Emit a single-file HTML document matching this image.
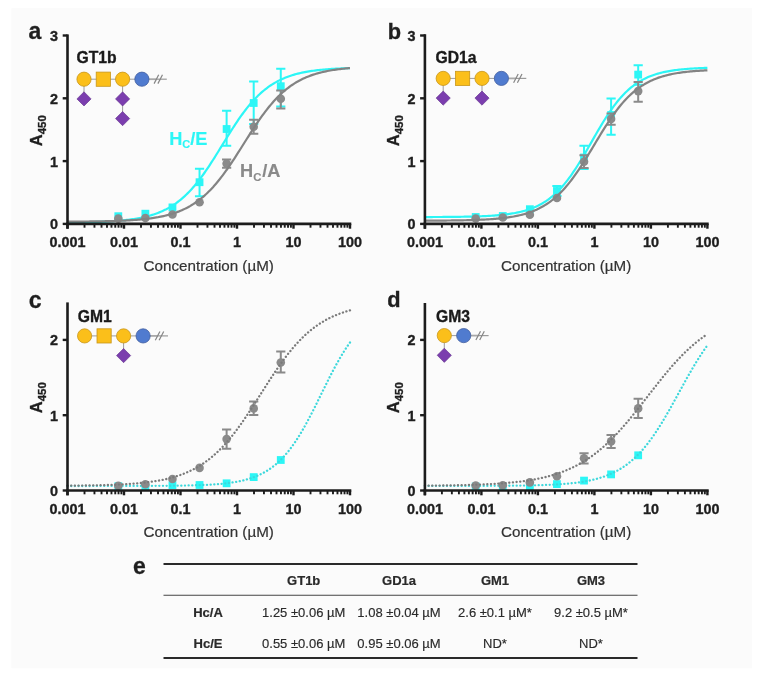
<!DOCTYPE html><html><head><meta charset="utf-8"><style>
html,body{margin:0;padding:0;background:#fff;width:772px;height:679px;overflow:hidden}
svg{display:block;filter:blur(0.3px)}
text{font-family:"Liberation Sans",sans-serif}
.tl{font-size:14.4px;font-weight:bold;fill:#1f1f1f;stroke:#1f1f1f;stroke-width:0.35px}
.pl{font-size:23px;font-weight:bold;fill:#1f1f1f;stroke:#1f1f1f;stroke-width:0.3px}
.xt{font-size:15.2px;fill:#333;stroke:#333;stroke-width:0.2px}
.yt{font-size:16.5px;font-weight:bold;fill:#1f1f1f;stroke:#1f1f1f;stroke-width:0.35px}
.gl{font-size:15.7px;font-weight:bold;fill:#1a1a1a;stroke:#1a1a1a;stroke-width:0.35px}
.hc{font-size:18.2px;font-weight:bold;stroke-width:0.15px}
.th{font-size:13px;font-weight:bold;fill:#2a2a2a;stroke:#2a2a2a;stroke-width:0.2px}
.td{font-size:13px;fill:#2a2a2a;stroke:#2a2a2a;stroke-width:0.15px}
</style></head><body><svg width="772" height="679" viewBox="0 0 772 679">
<rect x="0" y="0" width="772" height="679" fill="#ffffff"/>
<rect x="11.4" y="8.1" width="740.7" height="660.1" fill="#fbfbfb"/>
<rect x="114.40" y="212.30" width="7.8" height="7.8" fill="#2cf6f6"/>
<rect x="141.48" y="209.80" width="7.8" height="7.8" fill="#2cf6f6"/>
<rect x="168.56" y="203.50" width="7.8" height="7.8" fill="#2cf6f6"/>
<path d="M199.54,168.7 V196.2 M194.94,168.7 H204.14 M194.94,196.2 H204.14" stroke="#2cf6f6" stroke-width="2" fill="none"/>
<rect x="195.64" y="178.30" width="7.8" height="7.8" fill="#2cf6f6"/>
<path d="M226.62,110.8 V145.8 M222.02,110.8 H231.22 M222.02,145.8 H231.22" stroke="#2cf6f6" stroke-width="2" fill="none"/>
<rect x="222.72" y="125.10" width="7.8" height="7.8" fill="#2cf6f6"/>
<path d="M253.70,81.4 V124.0 M249.10,81.4 H258.30 M249.10,124.0 H258.30" stroke="#2cf6f6" stroke-width="2" fill="none"/>
<rect x="249.80" y="99.10" width="7.8" height="7.8" fill="#2cf6f6"/>
<path d="M280.78,68.8 V106.6 M276.18,68.8 H285.38 M276.18,106.6 H285.38" stroke="#2cf6f6" stroke-width="2" fill="none"/>
<rect x="276.88" y="82.30" width="7.8" height="7.8" fill="#2cf6f6"/>
<path d="M67.50,222.47 L68.91,222.46 L70.32,222.44 L71.74,222.43 L73.15,222.41 L74.56,222.39 L75.97,222.37 L77.39,222.35 L78.80,222.33 L80.21,222.31 L81.62,222.28 L83.04,222.26 L84.45,222.23 L85.86,222.20 L87.28,222.17 L88.69,222.14 L90.10,222.10 L91.51,222.07 L92.93,222.03 L94.34,221.99 L95.75,221.94 L97.16,221.90 L98.57,221.85 L99.99,221.80 L101.40,221.74 L102.81,221.68 L104.22,221.62 L105.64,221.55 L107.05,221.49 L108.46,221.41 L109.88,221.33 L111.29,221.25 L112.70,221.16 L114.11,221.07 L115.53,220.97 L116.94,220.86 L118.35,220.75 L119.76,220.64 L121.18,220.51 L122.59,220.38 L124.00,220.24 L125.41,220.09 L126.83,219.93 L128.24,219.77 L129.65,219.59 L131.06,219.40 L132.47,219.21 L133.89,219.00 L135.30,218.78 L136.71,218.54 L138.12,218.30 L139.54,218.04 L140.95,217.76 L142.36,217.47 L143.78,217.16 L145.19,216.83 L146.60,216.49 L148.01,216.12 L149.43,215.74 L150.84,215.34 L152.25,214.91 L153.66,214.46 L155.07,213.98 L156.49,213.48 L157.90,212.95 L159.31,212.39 L160.72,211.81 L162.14,211.19 L163.55,210.54 L164.96,209.86 L166.38,209.15 L167.79,208.40 L169.20,207.61 L170.61,206.78 L172.03,205.91 L173.44,205.00 L174.85,204.05 L176.26,203.05 L177.68,202.01 L179.09,200.93 L180.50,199.79 L181.91,198.61 L183.32,197.38 L184.74,196.10 L186.15,194.76 L187.56,193.38 L188.97,191.94 L190.39,190.45 L191.80,188.91 L193.21,187.32 L194.62,185.67 L196.04,183.97 L197.45,182.22 L198.86,180.42 L200.28,178.58 L201.69,176.68 L203.10,174.74 L204.51,172.75 L205.93,170.72 L207.34,168.65 L208.75,166.54 L210.16,164.40 L211.57,162.22 L212.99,160.02 L214.40,157.79 L215.81,155.54 L217.22,153.27 L218.64,150.99 L220.05,148.70 L221.46,146.40 L222.88,144.09 L224.29,141.79 L225.70,139.50 L227.11,137.22 L228.53,134.94 L229.94,132.69 L231.35,130.46 L232.76,128.25 L234.18,126.07 L235.59,123.92 L237.00,121.81 L238.41,119.73 L239.82,117.69 L241.24,115.70 L242.65,113.75 L244.06,111.84 L245.47,109.99 L246.89,108.18 L248.30,106.42 L249.71,104.72 L251.12,103.06 L252.54,101.46 L253.95,99.91 L255.36,98.41 L256.77,96.96 L258.19,95.57 L259.60,94.23 L261.01,92.94 L262.43,91.70 L263.84,90.51 L265.25,89.37 L266.66,88.27 L268.07,87.22 L269.49,86.22 L270.90,85.26 L272.31,84.35 L273.73,83.47 L275.14,82.64 L276.55,81.84 L277.96,81.08 L279.38,80.36 L280.79,79.68 L282.20,79.02 L283.61,78.40 L285.02,77.81 L286.44,77.25 L287.85,76.72 L289.26,76.21 L290.68,75.73 L292.09,75.27 L293.50,74.84 L294.91,74.43 L296.32,74.05 L297.74,73.68 L299.15,73.33 L300.56,73.00 L301.98,72.69 L303.39,72.40 L304.80,72.12 L306.21,71.85 L307.62,71.61 L309.04,71.37 L310.45,71.15 L311.86,70.94 L313.27,70.74 L314.69,70.55 L316.10,70.37 L317.51,70.20 L318.93,70.04 L320.34,69.90 L321.75,69.75 L323.16,69.62 L324.57,69.49 L325.99,69.38 L327.40,69.26 L328.81,69.16 L330.23,69.06 L331.64,68.96 L333.05,68.87 L334.46,68.79 L335.88,68.71 L337.29,68.64 L338.70,68.57 L340.11,68.50 L341.52,68.44 L342.94,68.38 L344.35,68.32 L345.76,68.27 L347.18,68.22 L348.59,68.17 L350.00,68.13" stroke="#2cf6f6" stroke-width="2.2" fill="none"/>
<circle cx="118.30" cy="218.6" r="4.3" fill="#8a8a8a"/>
<circle cx="145.38" cy="218.0" r="4.3" fill="#8a8a8a"/>
<circle cx="172.46" cy="214.5" r="4.3" fill="#8a8a8a"/>
<circle cx="199.54" cy="202.3" r="4.3" fill="#8a8a8a"/>
<path d="M226.62,159.5 V167.8 M222.02,159.5 H231.22 M222.02,167.8 H231.22" stroke="#8a8a8a" stroke-width="2" fill="none"/>
<circle cx="226.62" cy="163.6" r="4.3" fill="#8a8a8a"/>
<path d="M253.70,119.8 V133.8 M249.10,119.8 H258.30 M249.10,133.8 H258.30" stroke="#8a8a8a" stroke-width="2" fill="none"/>
<circle cx="253.70" cy="126.8" r="4.3" fill="#8a8a8a"/>
<path d="M280.78,90.4 V108.6 M276.18,90.4 H285.38 M276.18,108.6 H285.38" stroke="#8a8a8a" stroke-width="2" fill="none"/>
<circle cx="280.78" cy="98.8" r="4.3" fill="#8a8a8a"/>
<path d="M67.50,221.65 L68.91,221.64 L70.32,221.63 L71.74,221.63 L73.15,221.62 L74.56,221.61 L75.97,221.60 L77.39,221.59 L78.80,221.58 L80.21,221.57 L81.62,221.56 L83.04,221.54 L84.45,221.53 L85.86,221.52 L87.28,221.50 L88.69,221.49 L90.10,221.47 L91.51,221.45 L92.93,221.43 L94.34,221.42 L95.75,221.39 L97.16,221.37 L98.57,221.35 L99.99,221.32 L101.40,221.30 L102.81,221.27 L104.22,221.24 L105.64,221.21 L107.05,221.18 L108.46,221.14 L109.88,221.11 L111.29,221.07 L112.70,221.03 L114.11,220.98 L115.53,220.94 L116.94,220.89 L118.35,220.84 L119.76,220.78 L121.18,220.72 L122.59,220.66 L124.00,220.60 L125.41,220.53 L126.83,220.46 L128.24,220.38 L129.65,220.30 L131.06,220.21 L132.47,220.12 L133.89,220.02 L135.30,219.92 L136.71,219.81 L138.12,219.70 L139.54,219.58 L140.95,219.45 L142.36,219.31 L143.78,219.17 L145.19,219.02 L146.60,218.86 L148.01,218.69 L149.43,218.51 L150.84,218.32 L152.25,218.12 L153.66,217.91 L155.07,217.69 L156.49,217.46 L157.90,217.21 L159.31,216.95 L160.72,216.67 L162.14,216.38 L163.55,216.07 L164.96,215.74 L166.38,215.40 L167.79,215.04 L169.20,214.66 L170.61,214.26 L172.03,213.83 L173.44,213.39 L174.85,212.92 L176.26,212.42 L177.68,211.90 L179.09,211.36 L180.50,210.78 L181.91,210.18 L183.32,209.55 L184.74,208.88 L186.15,208.18 L187.56,207.45 L188.97,206.68 L190.39,205.88 L191.80,205.04 L193.21,204.16 L194.62,203.24 L196.04,202.27 L197.45,201.27 L198.86,200.22 L200.28,199.13 L201.69,197.99 L203.10,196.80 L204.51,195.57 L205.93,194.29 L207.34,192.96 L208.75,191.58 L210.16,190.15 L211.57,188.67 L212.99,187.15 L214.40,185.57 L215.81,183.94 L217.22,182.26 L218.64,180.54 L220.05,178.77 L221.46,176.95 L222.88,175.09 L224.29,173.18 L225.70,171.23 L227.11,169.24 L228.53,167.22 L229.94,165.16 L231.35,163.06 L232.76,160.94 L234.18,158.79 L235.59,156.62 L237.00,154.42 L238.41,152.21 L239.82,149.98 L241.24,147.75 L242.65,145.50 L244.06,143.26 L245.47,141.02 L246.89,138.78 L248.30,136.55 L249.71,134.33 L251.12,132.13 L252.54,129.94 L253.95,127.78 L255.36,125.65 L256.77,123.54 L258.19,121.47 L259.60,119.43 L261.01,117.42 L262.43,115.46 L263.84,113.53 L265.25,111.65 L266.66,109.82 L268.07,108.03 L269.49,106.28 L270.90,104.59 L272.31,102.94 L273.73,101.34 L275.14,99.79 L276.55,98.29 L277.96,96.85 L279.38,95.45 L280.79,94.10 L282.20,92.80 L283.61,91.54 L285.02,90.34 L286.44,89.18 L287.85,88.07 L289.26,87.00 L290.68,85.98 L292.09,85.00 L293.50,84.06 L294.91,83.17 L296.32,82.31 L297.74,81.49 L299.15,80.71 L300.56,79.96 L301.98,79.25 L303.39,78.57 L304.80,77.92 L306.21,77.31 L307.62,76.72 L309.04,76.16 L310.45,75.63 L311.86,75.13 L313.27,74.65 L314.69,74.19 L316.10,73.76 L317.51,73.35 L318.93,72.96 L320.34,72.59 L321.75,72.24 L323.16,71.91 L324.57,71.60 L325.99,71.30 L327.40,71.01 L328.81,70.75 L330.23,70.49 L331.64,70.25 L333.05,70.02 L334.46,69.81 L335.88,69.60 L337.29,69.41 L338.70,69.23 L340.11,69.06 L341.52,68.89 L342.94,68.74 L344.35,68.59 L345.76,68.45 L347.18,68.32 L348.59,68.20 L350.00,68.08" stroke="#838383" stroke-width="2.2" fill="none"/>
<path d="M67.5,34.4 V228.70000000000002" stroke="#1c1c1c" stroke-width="2.6" fill="none"/>
<path d="M66.2,223.9 H351.3" stroke="#1c1c1c" stroke-width="2.6" fill="none"/>
<path d="M62.7,223.9 H67.5" stroke="#1c1c1c" stroke-width="2.4"/>
<text x="58.0" y="229.4" text-anchor="end" class="tl">0</text>
<path d="M62.7,161.10000000000002 H67.5" stroke="#1c1c1c" stroke-width="2.4"/>
<text x="58.0" y="166.60000000000002" text-anchor="end" class="tl">1</text>
<path d="M62.7,98.30000000000001 H67.5" stroke="#1c1c1c" stroke-width="2.4"/>
<text x="58.0" y="103.80000000000001" text-anchor="end" class="tl">2</text>
<path d="M62.7,35.50000000000003 H67.5" stroke="#1c1c1c" stroke-width="2.4"/>
<text x="58.0" y="41.00000000000003" text-anchor="end" class="tl">3</text>
<path d="M67.5,223.9 V228.70000000000002" stroke="#1c1c1c" stroke-width="2.4"/>
<path d="M84.50819475501494,223.9 V227.70000000000002" stroke="#1c1c1c" stroke-width="1.9"/>
<path d="M94.45735089166092,223.9 V227.70000000000002" stroke="#1c1c1c" stroke-width="1.9"/>
<path d="M101.51638951002988,223.9 V227.70000000000002" stroke="#1c1c1c" stroke-width="1.9"/>
<path d="M106.99180524498507,223.9 V227.70000000000002" stroke="#1c1c1c" stroke-width="1.9"/>
<path d="M111.46554564667586,223.9 V227.70000000000002" stroke="#1c1c1c" stroke-width="1.9"/>
<path d="M115.24803926080551,223.9 V227.70000000000002" stroke="#1c1c1c" stroke-width="1.9"/>
<path d="M118.52458426504481,223.9 V227.70000000000002" stroke="#1c1c1c" stroke-width="1.9"/>
<path d="M121.41470178332185,223.9 V227.70000000000002" stroke="#1c1c1c" stroke-width="1.9"/>
<path d="M124.0,223.9 V228.70000000000002" stroke="#1c1c1c" stroke-width="2.4"/>
<path d="M141.00819475501493,223.9 V227.70000000000002" stroke="#1c1c1c" stroke-width="1.9"/>
<path d="M150.95735089166092,223.9 V227.70000000000002" stroke="#1c1c1c" stroke-width="1.9"/>
<path d="M158.01638951002988,223.9 V227.70000000000002" stroke="#1c1c1c" stroke-width="1.9"/>
<path d="M163.49180524498507,223.9 V227.70000000000002" stroke="#1c1c1c" stroke-width="1.9"/>
<path d="M167.96554564667588,223.9 V227.70000000000002" stroke="#1c1c1c" stroke-width="1.9"/>
<path d="M171.7480392608055,223.9 V227.70000000000002" stroke="#1c1c1c" stroke-width="1.9"/>
<path d="M175.0245842650448,223.9 V227.70000000000002" stroke="#1c1c1c" stroke-width="1.9"/>
<path d="M177.91470178332185,223.9 V227.70000000000002" stroke="#1c1c1c" stroke-width="1.9"/>
<path d="M180.5,223.9 V228.70000000000002" stroke="#1c1c1c" stroke-width="2.4"/>
<path d="M197.50819475501493,223.9 V227.70000000000002" stroke="#1c1c1c" stroke-width="1.9"/>
<path d="M207.45735089166092,223.9 V227.70000000000002" stroke="#1c1c1c" stroke-width="1.9"/>
<path d="M214.51638951002988,223.9 V227.70000000000002" stroke="#1c1c1c" stroke-width="1.9"/>
<path d="M219.99180524498507,223.9 V227.70000000000002" stroke="#1c1c1c" stroke-width="1.9"/>
<path d="M224.46554564667588,223.9 V227.70000000000002" stroke="#1c1c1c" stroke-width="1.9"/>
<path d="M228.2480392608055,223.9 V227.70000000000002" stroke="#1c1c1c" stroke-width="1.9"/>
<path d="M231.5245842650448,223.9 V227.70000000000002" stroke="#1c1c1c" stroke-width="1.9"/>
<path d="M234.41470178332185,223.9 V227.70000000000002" stroke="#1c1c1c" stroke-width="1.9"/>
<path d="M237.0,223.9 V228.70000000000002" stroke="#1c1c1c" stroke-width="2.4"/>
<path d="M254.00819475501493,223.9 V227.70000000000002" stroke="#1c1c1c" stroke-width="1.9"/>
<path d="M263.95735089166095,223.9 V227.70000000000002" stroke="#1c1c1c" stroke-width="1.9"/>
<path d="M271.01638951002985,223.9 V227.70000000000002" stroke="#1c1c1c" stroke-width="1.9"/>
<path d="M276.4918052449851,223.9 V227.70000000000002" stroke="#1c1c1c" stroke-width="1.9"/>
<path d="M280.9655456466759,223.9 V227.70000000000002" stroke="#1c1c1c" stroke-width="1.9"/>
<path d="M284.7480392608055,223.9 V227.70000000000002" stroke="#1c1c1c" stroke-width="1.9"/>
<path d="M288.02458426504484,223.9 V227.70000000000002" stroke="#1c1c1c" stroke-width="1.9"/>
<path d="M290.91470178332185,223.9 V227.70000000000002" stroke="#1c1c1c" stroke-width="1.9"/>
<path d="M293.5,223.9 V228.70000000000002" stroke="#1c1c1c" stroke-width="2.4"/>
<path d="M310.5081947550149,223.9 V227.70000000000002" stroke="#1c1c1c" stroke-width="1.9"/>
<path d="M320.45735089166095,223.9 V227.70000000000002" stroke="#1c1c1c" stroke-width="1.9"/>
<path d="M327.51638951002985,223.9 V227.70000000000002" stroke="#1c1c1c" stroke-width="1.9"/>
<path d="M332.9918052449851,223.9 V227.70000000000002" stroke="#1c1c1c" stroke-width="1.9"/>
<path d="M337.4655456466759,223.9 V227.70000000000002" stroke="#1c1c1c" stroke-width="1.9"/>
<path d="M341.2480392608055,223.9 V227.70000000000002" stroke="#1c1c1c" stroke-width="1.9"/>
<path d="M344.52458426504484,223.9 V227.70000000000002" stroke="#1c1c1c" stroke-width="1.9"/>
<path d="M347.41470178332185,223.9 V227.70000000000002" stroke="#1c1c1c" stroke-width="1.9"/>
<path d="M350.0,223.9 V228.70000000000002" stroke="#1c1c1c" stroke-width="2.4"/>
<text x="67.5" y="246.9" text-anchor="middle" class="tl">0.001</text>
<text x="124.0" y="246.9" text-anchor="middle" class="tl">0.01</text>
<text x="180.5" y="246.9" text-anchor="middle" class="tl">0.1</text>
<text x="237.0" y="246.9" text-anchor="middle" class="tl">1</text>
<text x="293.5" y="246.9" text-anchor="middle" class="tl">10</text>
<text x="350.0" y="246.9" text-anchor="middle" class="tl">100</text>
<rect x="471.80" y="213.10" width="7.8" height="7.8" fill="#2cf6f6"/>
<rect x="498.88" y="212.10" width="7.8" height="7.8" fill="#2cf6f6"/>
<rect x="525.96" y="205.30" width="7.8" height="7.8" fill="#2cf6f6"/>
<path d="M556.94,186.0 V196.0 M552.34,186.0 H561.54 M552.34,196.0 H561.54" stroke="#2cf6f6" stroke-width="2" fill="none"/>
<rect x="553.04" y="187.10" width="7.8" height="7.8" fill="#2cf6f6"/>
<path d="M584.02,145.7 V169.0 M579.42,145.7 H588.62 M579.42,169.0 H588.62" stroke="#2cf6f6" stroke-width="2" fill="none"/>
<rect x="580.12" y="153.60" width="7.8" height="7.8" fill="#2cf6f6"/>
<path d="M611.10,98.4 V134.7 M606.50,98.4 H615.70 M606.50,134.7 H615.70" stroke="#2cf6f6" stroke-width="2" fill="none"/>
<rect x="607.20" y="111.10" width="7.8" height="7.8" fill="#2cf6f6"/>
<path d="M638.18,65.3 V84.8 M633.58,65.3 H642.78 M633.58,84.8 H642.78" stroke="#2cf6f6" stroke-width="2" fill="none"/>
<rect x="634.28" y="70.70" width="7.8" height="7.8" fill="#2cf6f6"/>
<path d="M424.90,217.06 L426.31,217.05 L427.72,217.05 L429.14,217.04 L430.55,217.04 L431.96,217.03 L433.38,217.02 L434.79,217.02 L436.20,217.01 L437.61,217.00 L439.02,217.00 L440.44,216.99 L441.85,216.98 L443.26,216.97 L444.67,216.96 L446.09,216.95 L447.50,216.94 L448.91,216.93 L450.32,216.91 L451.74,216.90 L453.15,216.88 L454.56,216.87 L455.97,216.85 L457.39,216.83 L458.80,216.81 L460.21,216.79 L461.62,216.77 L463.04,216.75 L464.45,216.72 L465.86,216.69 L467.27,216.67 L468.69,216.64 L470.10,216.60 L471.51,216.57 L472.92,216.53 L474.34,216.49 L475.75,216.45 L477.16,216.40 L478.57,216.35 L479.99,216.30 L481.40,216.25 L482.81,216.19 L484.22,216.12 L485.64,216.06 L487.05,215.99 L488.46,215.91 L489.88,215.83 L491.29,215.74 L492.70,215.65 L494.11,215.55 L495.52,215.44 L496.94,215.33 L498.35,215.21 L499.76,215.08 L501.17,214.94 L502.59,214.79 L504.00,214.64 L505.41,214.47 L506.82,214.30 L508.24,214.11 L509.65,213.91 L511.06,213.69 L512.48,213.46 L513.89,213.22 L515.30,212.96 L516.71,212.69 L518.12,212.39 L519.54,212.08 L520.95,211.75 L522.36,211.40 L523.77,211.02 L525.19,210.63 L526.60,210.20 L528.01,209.75 L529.42,209.28 L530.84,208.77 L532.25,208.24 L533.66,207.67 L535.07,207.07 L536.49,206.43 L537.90,205.76 L539.31,205.04 L540.72,204.29 L542.14,203.49 L543.55,202.65 L544.96,201.77 L546.38,200.83 L547.79,199.85 L549.20,198.81 L550.61,197.73 L552.02,196.59 L553.44,195.39 L554.85,194.13 L556.26,192.82 L557.67,191.44 L559.09,190.01 L560.50,188.51 L561.91,186.95 L563.33,185.33 L564.74,183.64 L566.15,181.89 L567.56,180.08 L568.97,178.21 L570.39,176.28 L571.80,174.29 L573.21,172.24 L574.62,170.14 L576.04,167.98 L577.45,165.78 L578.86,163.52 L580.27,161.23 L581.69,158.90 L583.10,156.53 L584.51,154.13 L585.92,151.71 L587.34,149.27 L588.75,146.81 L590.16,144.34 L591.58,141.86 L592.99,139.39 L594.40,136.92 L595.81,134.47 L597.22,132.03 L598.64,129.61 L600.05,127.22 L601.46,124.86 L602.88,122.54 L604.29,120.25 L605.70,118.01 L607.11,115.82 L608.52,113.68 L609.94,111.59 L611.35,109.55 L612.76,107.57 L614.17,105.66 L615.59,103.80 L617.00,102.00 L618.41,100.27 L619.83,98.60 L621.24,97.00 L622.65,95.45 L624.06,93.97 L625.47,92.55 L626.89,91.19 L628.30,89.89 L629.71,88.65 L631.12,87.46 L632.54,86.33 L633.95,85.26 L635.36,84.24 L636.77,83.27 L638.19,82.34 L639.60,81.47 L641.01,80.64 L642.42,79.85 L643.84,79.11 L645.25,78.41 L646.66,77.74 L648.08,77.11 L649.49,76.52 L650.90,75.96 L652.31,75.43 L653.72,74.93 L655.14,74.47 L656.55,74.02 L657.96,73.61 L659.38,73.21 L660.79,72.85 L662.20,72.50 L663.61,72.17 L665.02,71.86 L666.44,71.58 L667.85,71.31 L669.26,71.05 L670.67,70.81 L672.09,70.59 L673.50,70.38 L674.91,70.18 L676.33,69.99 L677.74,69.82 L679.15,69.65 L680.56,69.50 L681.97,69.36 L683.39,69.22 L684.80,69.09 L686.21,68.98 L687.62,68.86 L689.04,68.76 L690.45,68.66 L691.86,68.57 L693.27,68.48 L694.69,68.40 L696.10,68.33 L697.51,68.26 L698.92,68.19 L700.34,68.13 L701.75,68.07 L703.16,68.02 L704.58,67.97 L705.99,67.92 L707.40,67.87" stroke="#2cf6f6" stroke-width="2.2" fill="none"/>
<circle cx="475.70" cy="218.5" r="4.3" fill="#8a8a8a"/>
<circle cx="502.78" cy="217.5" r="4.3" fill="#8a8a8a"/>
<circle cx="529.86" cy="214.8" r="4.3" fill="#8a8a8a"/>
<circle cx="556.94" cy="198.0" r="4.3" fill="#8a8a8a"/>
<path d="M584.02,155.2 V168.1 M579.42,155.2 H588.62 M579.42,168.1 H588.62" stroke="#8a8a8a" stroke-width="2" fill="none"/>
<circle cx="584.02" cy="161.7" r="4.3" fill="#8a8a8a"/>
<path d="M611.10,113.6 V124.8 M606.50,113.6 H615.70 M606.50,124.8 H615.70" stroke="#8a8a8a" stroke-width="2" fill="none"/>
<circle cx="611.10" cy="118.9" r="4.3" fill="#8a8a8a"/>
<path d="M638.18,82.0 V101.7 M633.58,82.0 H642.78 M633.58,101.7 H642.78" stroke="#8a8a8a" stroke-width="2" fill="none"/>
<circle cx="638.18" cy="91.1" r="4.3" fill="#8a8a8a"/>
<path d="M424.90,220.67 L426.31,220.67 L427.72,220.66 L429.14,220.65 L430.55,220.65 L431.96,220.64 L433.38,220.63 L434.79,220.62 L436.20,220.62 L437.61,220.61 L439.02,220.60 L440.44,220.59 L441.85,220.57 L443.26,220.56 L444.67,220.55 L446.09,220.54 L447.50,220.52 L448.91,220.51 L450.32,220.49 L451.74,220.47 L453.15,220.46 L454.56,220.44 L455.97,220.41 L457.39,220.39 L458.80,220.37 L460.21,220.34 L461.62,220.32 L463.04,220.29 L464.45,220.26 L465.86,220.23 L467.27,220.19 L468.69,220.16 L470.10,220.12 L471.51,220.08 L472.92,220.03 L474.34,219.99 L475.75,219.94 L477.16,219.89 L478.57,219.83 L479.99,219.77 L481.40,219.71 L482.81,219.64 L484.22,219.57 L485.64,219.49 L487.05,219.41 L488.46,219.33 L489.88,219.24 L491.29,219.14 L492.70,219.04 L494.11,218.93 L495.52,218.81 L496.94,218.69 L498.35,218.56 L499.76,218.42 L501.17,218.27 L502.59,218.12 L504.00,217.95 L505.41,217.77 L506.82,217.58 L508.24,217.39 L509.65,217.17 L511.06,216.95 L512.48,216.71 L513.89,216.46 L515.30,216.19 L516.71,215.91 L518.12,215.61 L519.54,215.29 L520.95,214.95 L522.36,214.59 L523.77,214.22 L525.19,213.82 L526.60,213.39 L528.01,212.94 L529.42,212.47 L530.84,211.97 L532.25,211.44 L533.66,210.88 L535.07,210.29 L536.49,209.67 L537.90,209.01 L539.31,208.32 L540.72,207.59 L542.14,206.82 L543.55,206.02 L544.96,205.17 L546.38,204.28 L547.79,203.34 L549.20,202.36 L550.61,201.33 L552.02,200.25 L553.44,199.13 L554.85,197.95 L556.26,196.72 L557.67,195.43 L559.09,194.09 L560.50,192.70 L561.91,191.25 L563.33,189.75 L564.74,188.18 L566.15,186.57 L567.56,184.89 L568.97,183.16 L570.39,181.38 L571.80,179.54 L573.21,177.65 L574.62,175.71 L576.04,173.71 L577.45,171.67 L578.86,169.59 L580.27,167.46 L581.69,165.29 L583.10,163.09 L584.51,160.86 L585.92,158.59 L587.34,156.30 L588.75,153.99 L590.16,151.66 L591.58,149.32 L592.99,146.97 L594.40,144.61 L595.81,142.26 L597.22,139.91 L598.64,137.57 L600.05,135.25 L601.46,132.94 L602.88,130.66 L604.29,128.41 L605.70,126.18 L607.11,123.99 L608.52,121.84 L609.94,119.72 L611.35,117.66 L612.76,115.63 L614.17,113.66 L615.59,111.73 L617.00,109.86 L618.41,108.04 L619.83,106.27 L621.24,104.56 L622.65,102.91 L624.06,101.31 L625.47,99.77 L626.89,98.28 L628.30,96.85 L629.71,95.48 L631.12,94.16 L632.54,92.89 L633.95,91.68 L635.36,90.52 L636.77,89.41 L638.19,88.35 L639.60,87.34 L641.01,86.37 L642.42,85.45 L643.84,84.58 L645.25,83.74 L646.66,82.95 L648.08,82.20 L649.49,81.48 L650.90,80.80 L652.31,80.16 L653.72,79.55 L655.14,78.97 L656.55,78.42 L657.96,77.90 L659.38,77.41 L660.79,76.94 L662.20,76.50 L663.61,76.09 L665.02,75.70 L666.44,75.33 L667.85,74.97 L669.26,74.64 L670.67,74.33 L672.09,74.04 L673.50,73.76 L674.91,73.50 L676.33,73.25 L677.74,73.02 L679.15,72.80 L680.56,72.59 L681.97,72.40 L683.39,72.21 L684.80,72.04 L686.21,71.88 L687.62,71.72 L689.04,71.58 L690.45,71.44 L691.86,71.31 L693.27,71.19 L694.69,71.08 L696.10,70.97 L697.51,70.87 L698.92,70.78 L700.34,70.69 L701.75,70.60 L703.16,70.53 L704.58,70.45 L705.99,70.38 L707.40,70.32" stroke="#838383" stroke-width="2.2" fill="none"/>
<path d="M424.9,34.199999999999996 V228.70000000000002" stroke="#1c1c1c" stroke-width="2.6" fill="none"/>
<path d="M423.59999999999997,223.9 H708.6999999999999" stroke="#1c1c1c" stroke-width="2.6" fill="none"/>
<path d="M420.09999999999997,223.9 H424.9" stroke="#1c1c1c" stroke-width="2.4"/>
<text x="415.4" y="229.4" text-anchor="end" class="tl">0</text>
<path d="M420.09999999999997,161.10000000000002 H424.9" stroke="#1c1c1c" stroke-width="2.4"/>
<text x="415.4" y="166.60000000000002" text-anchor="end" class="tl">1</text>
<path d="M420.09999999999997,98.30000000000001 H424.9" stroke="#1c1c1c" stroke-width="2.4"/>
<text x="415.4" y="103.80000000000001" text-anchor="end" class="tl">2</text>
<path d="M420.09999999999997,35.50000000000003 H424.9" stroke="#1c1c1c" stroke-width="2.4"/>
<text x="415.4" y="41.00000000000003" text-anchor="end" class="tl">3</text>
<path d="M424.9,223.9 V228.70000000000002" stroke="#1c1c1c" stroke-width="2.4"/>
<path d="M441.9081947550149,223.9 V227.70000000000002" stroke="#1c1c1c" stroke-width="1.9"/>
<path d="M451.85735089166093,223.9 V227.70000000000002" stroke="#1c1c1c" stroke-width="1.9"/>
<path d="M458.91638951002983,223.9 V227.70000000000002" stroke="#1c1c1c" stroke-width="1.9"/>
<path d="M464.39180524498505,223.9 V227.70000000000002" stroke="#1c1c1c" stroke-width="1.9"/>
<path d="M468.86554564667586,223.9 V227.70000000000002" stroke="#1c1c1c" stroke-width="1.9"/>
<path d="M472.6480392608055,223.9 V227.70000000000002" stroke="#1c1c1c" stroke-width="1.9"/>
<path d="M475.9245842650448,223.9 V227.70000000000002" stroke="#1c1c1c" stroke-width="1.9"/>
<path d="M478.8147017833218,223.9 V227.70000000000002" stroke="#1c1c1c" stroke-width="1.9"/>
<path d="M481.4,223.9 V228.70000000000002" stroke="#1c1c1c" stroke-width="2.4"/>
<path d="M498.4081947550149,223.9 V227.70000000000002" stroke="#1c1c1c" stroke-width="1.9"/>
<path d="M508.35735089166093,223.9 V227.70000000000002" stroke="#1c1c1c" stroke-width="1.9"/>
<path d="M515.4163895100298,223.9 V227.70000000000002" stroke="#1c1c1c" stroke-width="1.9"/>
<path d="M520.891805244985,223.9 V227.70000000000002" stroke="#1c1c1c" stroke-width="1.9"/>
<path d="M525.3655456466759,223.9 V227.70000000000002" stroke="#1c1c1c" stroke-width="1.9"/>
<path d="M529.1480392608055,223.9 V227.70000000000002" stroke="#1c1c1c" stroke-width="1.9"/>
<path d="M532.4245842650448,223.9 V227.70000000000002" stroke="#1c1c1c" stroke-width="1.9"/>
<path d="M535.3147017833219,223.9 V227.70000000000002" stroke="#1c1c1c" stroke-width="1.9"/>
<path d="M537.9,223.9 V228.70000000000002" stroke="#1c1c1c" stroke-width="2.4"/>
<path d="M554.908194755015,223.9 V227.70000000000002" stroke="#1c1c1c" stroke-width="1.9"/>
<path d="M564.8573508916609,223.9 V227.70000000000002" stroke="#1c1c1c" stroke-width="1.9"/>
<path d="M571.9163895100298,223.9 V227.70000000000002" stroke="#1c1c1c" stroke-width="1.9"/>
<path d="M577.391805244985,223.9 V227.70000000000002" stroke="#1c1c1c" stroke-width="1.9"/>
<path d="M581.8655456466759,223.9 V227.70000000000002" stroke="#1c1c1c" stroke-width="1.9"/>
<path d="M585.6480392608055,223.9 V227.70000000000002" stroke="#1c1c1c" stroke-width="1.9"/>
<path d="M588.9245842650448,223.9 V227.70000000000002" stroke="#1c1c1c" stroke-width="1.9"/>
<path d="M591.8147017833219,223.9 V227.70000000000002" stroke="#1c1c1c" stroke-width="1.9"/>
<path d="M594.4,223.9 V228.70000000000002" stroke="#1c1c1c" stroke-width="2.4"/>
<path d="M611.408194755015,223.9 V227.70000000000002" stroke="#1c1c1c" stroke-width="1.9"/>
<path d="M621.3573508916609,223.9 V227.70000000000002" stroke="#1c1c1c" stroke-width="1.9"/>
<path d="M628.4163895100298,223.9 V227.70000000000002" stroke="#1c1c1c" stroke-width="1.9"/>
<path d="M633.891805244985,223.9 V227.70000000000002" stroke="#1c1c1c" stroke-width="1.9"/>
<path d="M638.3655456466759,223.9 V227.70000000000002" stroke="#1c1c1c" stroke-width="1.9"/>
<path d="M642.1480392608055,223.9 V227.70000000000002" stroke="#1c1c1c" stroke-width="1.9"/>
<path d="M645.4245842650448,223.9 V227.70000000000002" stroke="#1c1c1c" stroke-width="1.9"/>
<path d="M648.3147017833219,223.9 V227.70000000000002" stroke="#1c1c1c" stroke-width="1.9"/>
<path d="M650.9,223.9 V228.70000000000002" stroke="#1c1c1c" stroke-width="2.4"/>
<path d="M667.908194755015,223.9 V227.70000000000002" stroke="#1c1c1c" stroke-width="1.9"/>
<path d="M677.8573508916609,223.9 V227.70000000000002" stroke="#1c1c1c" stroke-width="1.9"/>
<path d="M684.9163895100298,223.9 V227.70000000000002" stroke="#1c1c1c" stroke-width="1.9"/>
<path d="M690.391805244985,223.9 V227.70000000000002" stroke="#1c1c1c" stroke-width="1.9"/>
<path d="M694.8655456466759,223.9 V227.70000000000002" stroke="#1c1c1c" stroke-width="1.9"/>
<path d="M698.6480392608055,223.9 V227.70000000000002" stroke="#1c1c1c" stroke-width="1.9"/>
<path d="M701.9245842650448,223.9 V227.70000000000002" stroke="#1c1c1c" stroke-width="1.9"/>
<path d="M704.8147017833219,223.9 V227.70000000000002" stroke="#1c1c1c" stroke-width="1.9"/>
<path d="M707.4,223.9 V228.70000000000002" stroke="#1c1c1c" stroke-width="2.4"/>
<text x="424.9" y="246.9" text-anchor="middle" class="tl">0.001</text>
<text x="481.4" y="246.9" text-anchor="middle" class="tl">0.01</text>
<text x="537.9" y="246.9" text-anchor="middle" class="tl">0.1</text>
<text x="594.4" y="246.9" text-anchor="middle" class="tl">1</text>
<text x="650.9" y="246.9" text-anchor="middle" class="tl">10</text>
<text x="707.4" y="246.9" text-anchor="middle" class="tl">100</text>
<rect x="114.40" y="482.30" width="7.8" height="7.8" fill="#2cf6f6"/>
<rect x="141.48" y="482.90" width="7.8" height="7.8" fill="#2cf6f6"/>
<rect x="168.56" y="481.30" width="7.8" height="7.8" fill="#2cf6f6"/>
<rect x="195.64" y="481.10" width="7.8" height="7.8" fill="#2cf6f6"/>
<rect x="222.72" y="479.40" width="7.8" height="7.8" fill="#2cf6f6"/>
<rect x="249.80" y="473.20" width="7.8" height="7.8" fill="#2cf6f6"/>
<rect x="276.88" y="456.10" width="7.8" height="7.8" fill="#2cf6f6"/>
<path d="M67.50,485.98 L68.91,485.98 L70.32,485.98 L71.74,485.98 L73.15,485.98 L74.56,485.98 L75.97,485.98 L77.39,485.98 L78.80,485.98 L80.21,485.98 L81.62,485.98 L83.04,485.98 L84.45,485.98 L85.86,485.98 L87.28,485.98 L88.69,485.98 L90.10,485.98 L91.51,485.98 L92.93,485.97 L94.34,485.97 L95.75,485.97 L97.16,485.97 L98.57,485.97 L99.99,485.97 L101.40,485.97 L102.81,485.97 L104.22,485.97 L105.64,485.97 L107.05,485.97 L108.46,485.97 L109.88,485.97 L111.29,485.97 L112.70,485.96 L114.11,485.96 L115.53,485.96 L116.94,485.96 L118.35,485.96 L119.76,485.96 L121.18,485.96 L122.59,485.95 L124.00,485.95 L125.41,485.95 L126.83,485.95 L128.24,485.95 L129.65,485.94 L131.06,485.94 L132.47,485.94 L133.89,485.94 L135.30,485.93 L136.71,485.93 L138.12,485.93 L139.54,485.92 L140.95,485.92 L142.36,485.92 L143.78,485.91 L145.19,485.91 L146.60,485.90 L148.01,485.90 L149.43,485.89 L150.84,485.89 L152.25,485.88 L153.66,485.87 L155.07,485.87 L156.49,485.86 L157.90,485.85 L159.31,485.84 L160.72,485.83 L162.14,485.82 L163.55,485.81 L164.96,485.80 L166.38,485.79 L167.79,485.78 L169.20,485.77 L170.61,485.75 L172.03,485.74 L173.44,485.72 L174.85,485.70 L176.26,485.69 L177.68,485.67 L179.09,485.65 L180.50,485.63 L181.91,485.60 L183.32,485.58 L184.74,485.55 L186.15,485.52 L187.56,485.49 L188.97,485.46 L190.39,485.43 L191.80,485.39 L193.21,485.36 L194.62,485.32 L196.04,485.27 L197.45,485.23 L198.86,485.18 L200.28,485.13 L201.69,485.07 L203.10,485.01 L204.51,484.95 L205.93,484.89 L207.34,484.81 L208.75,484.74 L210.16,484.66 L211.57,484.58 L212.99,484.49 L214.40,484.39 L215.81,484.29 L217.22,484.18 L218.64,484.06 L220.05,483.94 L221.46,483.81 L222.88,483.67 L224.29,483.52 L225.70,483.37 L227.11,483.20 L228.53,483.02 L229.94,482.83 L231.35,482.63 L232.76,482.42 L234.18,482.20 L235.59,481.96 L237.00,481.70 L238.41,481.43 L239.82,481.15 L241.24,480.84 L242.65,480.52 L244.06,480.18 L245.47,479.81 L246.89,479.43 L248.30,479.02 L249.71,478.59 L251.12,478.13 L252.54,477.65 L253.95,477.13 L255.36,476.59 L256.77,476.02 L258.19,475.41 L259.60,474.77 L261.01,474.09 L262.43,473.37 L263.84,472.62 L265.25,471.82 L266.66,470.98 L268.07,470.09 L269.49,469.16 L270.90,468.17 L272.31,467.14 L273.73,466.05 L275.14,464.91 L276.55,463.71 L277.96,462.46 L279.38,461.14 L280.79,459.77 L282.20,458.33 L283.61,456.82 L285.02,455.25 L286.44,453.61 L287.85,451.91 L289.26,450.14 L290.68,448.29 L292.09,446.38 L293.50,444.40 L294.91,442.35 L296.32,440.23 L297.74,438.05 L299.15,435.79 L300.56,433.48 L301.98,431.10 L303.39,428.66 L304.80,426.16 L306.21,423.60 L307.62,421.00 L309.04,418.34 L310.45,415.65 L311.86,412.91 L313.27,410.14 L314.69,407.34 L316.10,404.51 L317.51,401.66 L318.93,398.80 L320.34,395.93 L321.75,393.06 L323.16,390.19 L324.57,387.32 L325.99,384.48 L327.40,381.65 L328.81,378.84 L330.23,376.06 L331.64,373.32 L333.05,370.62 L334.46,367.96 L335.88,365.35 L337.29,362.79 L338.70,360.28 L340.11,357.83 L341.52,355.44 L342.94,353.12 L344.35,350.86 L345.76,348.66 L347.18,346.54 L348.59,344.48 L350.00,342.49" stroke="#3ed8dc" stroke-width="2.3" fill="none" stroke-dasharray="0.1 3.57" stroke-linecap="round"/>
<circle cx="118.30" cy="485.7" r="4.3" fill="#8a8a8a"/>
<circle cx="145.38" cy="484.2" r="4.3" fill="#8a8a8a"/>
<circle cx="172.46" cy="479.0" r="4.3" fill="#8a8a8a"/>
<circle cx="199.54" cy="467.9" r="4.3" fill="#8a8a8a"/>
<path d="M226.62,429.6 V448.8 M222.02,429.6 H231.22 M222.02,448.8 H231.22" stroke="#8a8a8a" stroke-width="2" fill="none"/>
<circle cx="226.62" cy="439.1" r="4.3" fill="#8a8a8a"/>
<path d="M253.70,401.6 V414.9 M249.10,401.6 H258.30 M249.10,414.9 H258.30" stroke="#8a8a8a" stroke-width="2" fill="none"/>
<circle cx="253.70" cy="408.4" r="4.3" fill="#8a8a8a"/>
<path d="M280.78,351.6 V372.5 M276.18,351.6 H285.38 M276.18,372.5 H285.38" stroke="#8a8a8a" stroke-width="2" fill="none"/>
<circle cx="280.78" cy="362.5" r="4.3" fill="#8a8a8a"/>
<path d="M67.50,485.74 L68.91,485.73 L70.32,485.71 L71.74,485.70 L73.15,485.69 L74.56,485.67 L75.97,485.66 L77.39,485.64 L78.80,485.62 L80.21,485.60 L81.62,485.59 L83.04,485.57 L84.45,485.55 L85.86,485.52 L87.28,485.50 L88.69,485.48 L90.10,485.45 L91.51,485.43 L92.93,485.40 L94.34,485.37 L95.75,485.34 L97.16,485.31 L98.57,485.27 L99.99,485.24 L101.40,485.20 L102.81,485.16 L104.22,485.12 L105.64,485.08 L107.05,485.04 L108.46,484.99 L109.88,484.94 L111.29,484.89 L112.70,484.84 L114.11,484.78 L115.53,484.72 L116.94,484.66 L118.35,484.59 L119.76,484.53 L121.18,484.45 L122.59,484.38 L124.00,484.30 L125.41,484.22 L126.83,484.13 L128.24,484.04 L129.65,483.95 L131.06,483.85 L132.47,483.74 L133.89,483.63 L135.30,483.52 L136.71,483.40 L138.12,483.27 L139.54,483.14 L140.95,483.00 L142.36,482.85 L143.78,482.70 L145.19,482.54 L146.60,482.37 L148.01,482.20 L149.43,482.01 L150.84,481.82 L152.25,481.62 L153.66,481.41 L155.07,481.19 L156.49,480.96 L157.90,480.71 L159.31,480.46 L160.72,480.20 L162.14,479.92 L163.55,479.63 L164.96,479.32 L166.38,479.01 L167.79,478.67 L169.20,478.33 L170.61,477.96 L172.03,477.58 L173.44,477.19 L174.85,476.77 L176.26,476.34 L177.68,475.89 L179.09,475.42 L180.50,474.92 L181.91,474.41 L183.32,473.87 L184.74,473.32 L186.15,472.73 L187.56,472.12 L188.97,471.49 L190.39,470.83 L191.80,470.15 L193.21,469.43 L194.62,468.69 L196.04,467.91 L197.45,467.11 L198.86,466.27 L200.28,465.40 L201.69,464.50 L203.10,463.57 L204.51,462.60 L205.93,461.59 L207.34,460.55 L208.75,459.47 L210.16,458.35 L211.57,457.20 L212.99,456.00 L214.40,454.77 L215.81,453.49 L217.22,452.18 L218.64,450.82 L220.05,449.42 L221.46,447.99 L222.88,446.51 L224.29,444.98 L225.70,443.42 L227.11,441.82 L228.53,440.17 L229.94,438.49 L231.35,436.76 L232.76,435.00 L234.18,433.20 L235.59,431.36 L237.00,429.48 L238.41,427.57 L239.82,425.62 L241.24,423.64 L242.65,421.63 L244.06,419.59 L245.47,417.53 L246.89,415.43 L248.30,413.32 L249.71,411.18 L251.12,409.02 L252.54,406.85 L253.95,404.66 L255.36,402.46 L256.77,400.25 L258.19,398.03 L259.60,395.81 L261.01,393.59 L262.43,391.36 L263.84,389.14 L265.25,386.93 L266.66,384.72 L268.07,382.52 L269.49,380.34 L270.90,378.17 L272.31,376.03 L273.73,373.90 L275.14,371.79 L276.55,369.71 L277.96,367.66 L279.38,365.63 L280.79,363.63 L282.20,361.67 L283.61,359.74 L285.02,357.84 L286.44,355.98 L287.85,354.16 L289.26,352.37 L290.68,350.63 L292.09,348.92 L293.50,347.25 L294.91,345.62 L296.32,344.04 L297.74,342.49 L299.15,340.99 L300.56,339.53 L301.98,338.11 L303.39,336.73 L304.80,335.39 L306.21,334.09 L307.62,332.84 L309.04,331.62 L310.45,330.44 L311.86,329.30 L313.27,328.20 L314.69,327.14 L316.10,326.11 L317.51,325.12 L318.93,324.17 L320.34,323.25 L321.75,322.36 L323.16,321.51 L324.57,320.69 L325.99,319.90 L327.40,319.14 L328.81,318.41 L330.23,317.70 L331.64,317.03 L333.05,316.38 L334.46,315.76 L335.88,315.16 L337.29,314.59 L338.70,314.04 L340.11,313.52 L341.52,313.01 L342.94,312.53 L344.35,312.06 L345.76,311.62 L347.18,311.20 L348.59,310.79 L350.00,310.40" stroke="#7a7a7a" stroke-width="2.3" fill="none" stroke-dasharray="0.1 3.57" stroke-linecap="round"/>
<path d="M67.5,302.4 V495.3" stroke="#1c1c1c" stroke-width="2.6" fill="none"/>
<path d="M66.2,490.5 H351.3" stroke="#1c1c1c" stroke-width="2.6" fill="none"/>
<path d="M62.7,490.5 H67.5" stroke="#1c1c1c" stroke-width="2.4"/>
<text x="58.0" y="496.0" text-anchor="end" class="tl">0</text>
<path d="M62.7,415.2 H67.5" stroke="#1c1c1c" stroke-width="2.4"/>
<text x="58.0" y="420.7" text-anchor="end" class="tl">1</text>
<path d="M62.7,339.9 H67.5" stroke="#1c1c1c" stroke-width="2.4"/>
<text x="58.0" y="345.4" text-anchor="end" class="tl">2</text>
<path d="M67.5,490.5 V495.3" stroke="#1c1c1c" stroke-width="2.4"/>
<path d="M84.50819475501494,490.5 V494.3" stroke="#1c1c1c" stroke-width="1.9"/>
<path d="M94.45735089166092,490.5 V494.3" stroke="#1c1c1c" stroke-width="1.9"/>
<path d="M101.51638951002988,490.5 V494.3" stroke="#1c1c1c" stroke-width="1.9"/>
<path d="M106.99180524498507,490.5 V494.3" stroke="#1c1c1c" stroke-width="1.9"/>
<path d="M111.46554564667586,490.5 V494.3" stroke="#1c1c1c" stroke-width="1.9"/>
<path d="M115.24803926080551,490.5 V494.3" stroke="#1c1c1c" stroke-width="1.9"/>
<path d="M118.52458426504481,490.5 V494.3" stroke="#1c1c1c" stroke-width="1.9"/>
<path d="M121.41470178332185,490.5 V494.3" stroke="#1c1c1c" stroke-width="1.9"/>
<path d="M124.0,490.5 V495.3" stroke="#1c1c1c" stroke-width="2.4"/>
<path d="M141.00819475501493,490.5 V494.3" stroke="#1c1c1c" stroke-width="1.9"/>
<path d="M150.95735089166092,490.5 V494.3" stroke="#1c1c1c" stroke-width="1.9"/>
<path d="M158.01638951002988,490.5 V494.3" stroke="#1c1c1c" stroke-width="1.9"/>
<path d="M163.49180524498507,490.5 V494.3" stroke="#1c1c1c" stroke-width="1.9"/>
<path d="M167.96554564667588,490.5 V494.3" stroke="#1c1c1c" stroke-width="1.9"/>
<path d="M171.7480392608055,490.5 V494.3" stroke="#1c1c1c" stroke-width="1.9"/>
<path d="M175.0245842650448,490.5 V494.3" stroke="#1c1c1c" stroke-width="1.9"/>
<path d="M177.91470178332185,490.5 V494.3" stroke="#1c1c1c" stroke-width="1.9"/>
<path d="M180.5,490.5 V495.3" stroke="#1c1c1c" stroke-width="2.4"/>
<path d="M197.50819475501493,490.5 V494.3" stroke="#1c1c1c" stroke-width="1.9"/>
<path d="M207.45735089166092,490.5 V494.3" stroke="#1c1c1c" stroke-width="1.9"/>
<path d="M214.51638951002988,490.5 V494.3" stroke="#1c1c1c" stroke-width="1.9"/>
<path d="M219.99180524498507,490.5 V494.3" stroke="#1c1c1c" stroke-width="1.9"/>
<path d="M224.46554564667588,490.5 V494.3" stroke="#1c1c1c" stroke-width="1.9"/>
<path d="M228.2480392608055,490.5 V494.3" stroke="#1c1c1c" stroke-width="1.9"/>
<path d="M231.5245842650448,490.5 V494.3" stroke="#1c1c1c" stroke-width="1.9"/>
<path d="M234.41470178332185,490.5 V494.3" stroke="#1c1c1c" stroke-width="1.9"/>
<path d="M237.0,490.5 V495.3" stroke="#1c1c1c" stroke-width="2.4"/>
<path d="M254.00819475501493,490.5 V494.3" stroke="#1c1c1c" stroke-width="1.9"/>
<path d="M263.95735089166095,490.5 V494.3" stroke="#1c1c1c" stroke-width="1.9"/>
<path d="M271.01638951002985,490.5 V494.3" stroke="#1c1c1c" stroke-width="1.9"/>
<path d="M276.4918052449851,490.5 V494.3" stroke="#1c1c1c" stroke-width="1.9"/>
<path d="M280.9655456466759,490.5 V494.3" stroke="#1c1c1c" stroke-width="1.9"/>
<path d="M284.7480392608055,490.5 V494.3" stroke="#1c1c1c" stroke-width="1.9"/>
<path d="M288.02458426504484,490.5 V494.3" stroke="#1c1c1c" stroke-width="1.9"/>
<path d="M290.91470178332185,490.5 V494.3" stroke="#1c1c1c" stroke-width="1.9"/>
<path d="M293.5,490.5 V495.3" stroke="#1c1c1c" stroke-width="2.4"/>
<path d="M310.5081947550149,490.5 V494.3" stroke="#1c1c1c" stroke-width="1.9"/>
<path d="M320.45735089166095,490.5 V494.3" stroke="#1c1c1c" stroke-width="1.9"/>
<path d="M327.51638951002985,490.5 V494.3" stroke="#1c1c1c" stroke-width="1.9"/>
<path d="M332.9918052449851,490.5 V494.3" stroke="#1c1c1c" stroke-width="1.9"/>
<path d="M337.4655456466759,490.5 V494.3" stroke="#1c1c1c" stroke-width="1.9"/>
<path d="M341.2480392608055,490.5 V494.3" stroke="#1c1c1c" stroke-width="1.9"/>
<path d="M344.52458426504484,490.5 V494.3" stroke="#1c1c1c" stroke-width="1.9"/>
<path d="M347.41470178332185,490.5 V494.3" stroke="#1c1c1c" stroke-width="1.9"/>
<path d="M350.0,490.5 V495.3" stroke="#1c1c1c" stroke-width="2.4"/>
<text x="67.5" y="513.5" text-anchor="middle" class="tl">0.001</text>
<text x="124.0" y="513.5" text-anchor="middle" class="tl">0.01</text>
<text x="180.5" y="513.5" text-anchor="middle" class="tl">0.1</text>
<text x="237.0" y="513.5" text-anchor="middle" class="tl">1</text>
<text x="293.5" y="513.5" text-anchor="middle" class="tl">10</text>
<text x="350.0" y="513.5" text-anchor="middle" class="tl">100</text>
<rect x="471.80" y="482.60" width="7.8" height="7.8" fill="#2cf6f6"/>
<rect x="498.88" y="483.10" width="7.8" height="7.8" fill="#2cf6f6"/>
<rect x="525.96" y="482.30" width="7.8" height="7.8" fill="#2cf6f6"/>
<rect x="553.04" y="480.20" width="7.8" height="7.8" fill="#2cf6f6"/>
<rect x="580.12" y="476.70" width="7.8" height="7.8" fill="#2cf6f6"/>
<rect x="607.20" y="470.50" width="7.8" height="7.8" fill="#2cf6f6"/>
<rect x="634.28" y="451.40" width="7.8" height="7.8" fill="#2cf6f6"/>
<path d="M424.90,485.97 L426.31,485.97 L427.72,485.97 L429.14,485.97 L430.55,485.97 L431.96,485.97 L433.38,485.97 L434.79,485.97 L436.20,485.97 L437.61,485.97 L439.02,485.97 L440.44,485.97 L441.85,485.96 L443.26,485.96 L444.67,485.96 L446.09,485.96 L447.50,485.96 L448.91,485.96 L450.32,485.96 L451.74,485.96 L453.15,485.96 L454.56,485.95 L455.97,485.95 L457.39,485.95 L458.80,485.95 L460.21,485.95 L461.62,485.94 L463.04,485.94 L464.45,485.94 L465.86,485.94 L467.27,485.94 L468.69,485.93 L470.10,485.93 L471.51,485.93 L472.92,485.92 L474.34,485.92 L475.75,485.92 L477.16,485.91 L478.57,485.91 L479.99,485.91 L481.40,485.90 L482.81,485.90 L484.22,485.89 L485.64,485.89 L487.05,485.88 L488.46,485.88 L489.88,485.87 L491.29,485.86 L492.70,485.86 L494.11,485.85 L495.52,485.84 L496.94,485.83 L498.35,485.82 L499.76,485.82 L501.17,485.81 L502.59,485.80 L504.00,485.79 L505.41,485.77 L506.82,485.76 L508.24,485.75 L509.65,485.74 L511.06,485.72 L512.48,485.71 L513.89,485.69 L515.30,485.68 L516.71,485.66 L518.12,485.64 L519.54,485.62 L520.95,485.60 L522.36,485.58 L523.77,485.56 L525.19,485.53 L526.60,485.51 L528.01,485.48 L529.42,485.45 L530.84,485.42 L532.25,485.39 L533.66,485.36 L535.07,485.32 L536.49,485.28 L537.90,485.24 L539.31,485.20 L540.72,485.16 L542.14,485.11 L543.55,485.06 L544.96,485.01 L546.38,484.95 L547.79,484.89 L549.20,484.83 L550.61,484.77 L552.02,484.70 L553.44,484.63 L554.85,484.55 L556.26,484.47 L557.67,484.38 L559.09,484.29 L560.50,484.20 L561.91,484.10 L563.33,483.99 L564.74,483.88 L566.15,483.76 L567.56,483.64 L568.97,483.51 L570.39,483.37 L571.80,483.22 L573.21,483.07 L574.62,482.90 L576.04,482.73 L577.45,482.55 L578.86,482.36 L580.27,482.15 L581.69,481.94 L583.10,481.72 L584.51,481.48 L585.92,481.23 L587.34,480.97 L588.75,480.69 L590.16,480.40 L591.58,480.09 L592.99,479.76 L594.40,479.42 L595.81,479.06 L597.22,478.68 L598.64,478.28 L600.05,477.87 L601.46,477.42 L602.88,476.96 L604.29,476.47 L605.70,475.96 L607.11,475.42 L608.52,474.86 L609.94,474.26 L611.35,473.64 L612.76,472.99 L614.17,472.30 L615.59,471.58 L617.00,470.83 L618.41,470.04 L619.83,469.21 L621.24,468.35 L622.65,467.45 L624.06,466.50 L625.47,465.51 L626.89,464.48 L628.30,463.41 L629.71,462.28 L631.12,461.11 L632.54,459.90 L633.95,458.63 L635.36,457.31 L636.77,455.94 L638.19,454.52 L639.60,453.04 L641.01,451.52 L642.42,449.93 L643.84,448.29 L645.25,446.60 L646.66,444.85 L648.08,443.05 L649.49,441.19 L650.90,439.28 L652.31,437.32 L653.72,435.30 L655.14,433.23 L656.55,431.11 L657.96,428.94 L659.38,426.72 L660.79,424.46 L662.20,422.16 L663.61,419.81 L665.02,417.43 L666.44,415.01 L667.85,412.56 L669.26,410.08 L670.67,407.58 L672.09,405.05 L673.50,402.51 L674.91,399.94 L676.33,397.37 L677.74,394.79 L679.15,392.21 L680.56,389.63 L681.97,387.06 L683.39,384.49 L684.80,381.93 L686.21,379.39 L687.62,376.87 L689.04,374.38 L690.45,371.91 L691.86,369.47 L693.27,367.07 L694.69,364.70 L696.10,362.37 L697.51,360.08 L698.92,357.84 L700.34,355.64 L701.75,353.49 L703.16,351.39 L704.58,349.34 L705.99,347.35 L707.40,345.40" stroke="#3ed8dc" stroke-width="2.3" fill="none" stroke-dasharray="0.1 3.57" stroke-linecap="round"/>
<circle cx="475.70" cy="485.5" r="4.3" fill="#8a8a8a"/>
<circle cx="502.78" cy="485.2" r="4.3" fill="#8a8a8a"/>
<circle cx="529.86" cy="482.4" r="4.3" fill="#8a8a8a"/>
<circle cx="556.94" cy="476.2" r="4.3" fill="#8a8a8a"/>
<path d="M584.02,453.2 V463.5 M579.42,453.2 H588.62 M579.42,463.5 H588.62" stroke="#8a8a8a" stroke-width="2" fill="none"/>
<circle cx="584.02" cy="458.2" r="4.3" fill="#8a8a8a"/>
<path d="M611.10,435.0 V447.9 M606.50,435.0 H615.70 M606.50,447.9 H615.70" stroke="#8a8a8a" stroke-width="2" fill="none"/>
<circle cx="611.10" cy="441.4" r="4.3" fill="#8a8a8a"/>
<path d="M638.18,398.7 V417.9 M633.58,398.7 H642.78 M633.58,417.9 H642.78" stroke="#8a8a8a" stroke-width="2" fill="none"/>
<circle cx="638.18" cy="408.4" r="4.3" fill="#8a8a8a"/>
<path d="M424.90,485.69 L426.31,485.68 L427.72,485.67 L429.14,485.65 L430.55,485.64 L431.96,485.63 L433.38,485.61 L434.79,485.60 L436.20,485.58 L437.61,485.56 L439.02,485.55 L440.44,485.53 L441.85,485.51 L443.26,485.49 L444.67,485.47 L446.09,485.45 L447.50,485.43 L448.91,485.40 L450.32,485.38 L451.74,485.35 L453.15,485.33 L454.56,485.30 L455.97,485.27 L457.39,485.24 L458.80,485.21 L460.21,485.18 L461.62,485.15 L463.04,485.11 L464.45,485.08 L465.86,485.04 L467.27,485.00 L468.69,484.96 L470.10,484.92 L471.51,484.87 L472.92,484.83 L474.34,484.78 L475.75,484.73 L477.16,484.68 L478.57,484.63 L479.99,484.57 L481.40,484.51 L482.81,484.45 L484.22,484.39 L485.64,484.32 L487.05,484.25 L488.46,484.18 L489.88,484.11 L491.29,484.03 L492.70,483.95 L494.11,483.87 L495.52,483.78 L496.94,483.69 L498.35,483.60 L499.76,483.50 L501.17,483.40 L502.59,483.29 L504.00,483.18 L505.41,483.07 L506.82,482.95 L508.24,482.82 L509.65,482.69 L511.06,482.56 L512.48,482.42 L513.89,482.27 L515.30,482.12 L516.71,481.97 L518.12,481.80 L519.54,481.63 L520.95,481.46 L522.36,481.27 L523.77,481.08 L525.19,480.88 L526.60,480.68 L528.01,480.47 L529.42,480.24 L530.84,480.01 L532.25,479.77 L533.66,479.52 L535.07,479.27 L536.49,479.00 L537.90,478.72 L539.31,478.43 L540.72,478.13 L542.14,477.82 L543.55,477.49 L544.96,477.16 L546.38,476.81 L547.79,476.45 L549.20,476.07 L550.61,475.68 L552.02,475.28 L553.44,474.86 L554.85,474.43 L556.26,473.98 L557.67,473.52 L559.09,473.04 L560.50,472.54 L561.91,472.03 L563.33,471.49 L564.74,470.94 L566.15,470.37 L567.56,469.78 L568.97,469.17 L570.39,468.54 L571.80,467.88 L573.21,467.21 L574.62,466.51 L576.04,465.80 L577.45,465.05 L578.86,464.29 L580.27,463.50 L581.69,462.69 L583.10,461.85 L584.51,460.99 L585.92,460.10 L587.34,459.18 L588.75,458.24 L590.16,457.27 L591.58,456.27 L592.99,455.25 L594.40,454.20 L595.81,453.12 L597.22,452.01 L598.64,450.88 L600.05,449.71 L601.46,448.52 L602.88,447.30 L604.29,446.05 L605.70,444.77 L607.11,443.46 L608.52,442.13 L609.94,440.77 L611.35,439.38 L612.76,437.96 L614.17,436.51 L615.59,435.04 L617.00,433.54 L618.41,432.02 L619.83,430.47 L621.24,428.90 L622.65,427.30 L624.06,425.69 L625.47,424.05 L626.89,422.39 L628.30,420.71 L629.71,419.01 L631.12,417.29 L632.54,415.56 L633.95,413.81 L635.36,412.05 L636.77,410.28 L638.19,408.49 L639.60,406.70 L641.01,404.90 L642.42,403.09 L643.84,401.27 L645.25,399.45 L646.66,397.63 L648.08,395.81 L649.49,393.99 L650.90,392.17 L652.31,390.35 L653.72,388.54 L655.14,386.74 L656.55,384.94 L657.96,383.16 L659.38,381.38 L660.79,379.62 L662.20,377.87 L663.61,376.13 L665.02,374.41 L666.44,372.71 L667.85,371.03 L669.26,369.37 L670.67,367.72 L672.09,366.10 L673.50,364.50 L674.91,362.93 L676.33,361.37 L677.74,359.85 L679.15,358.34 L680.56,356.87 L681.97,355.42 L683.39,354.00 L684.80,352.60 L686.21,351.23 L687.62,349.89 L689.04,348.58 L690.45,347.30 L691.86,346.04 L693.27,344.82 L694.69,343.62 L696.10,342.45 L697.51,341.31 L698.92,340.20 L700.34,339.11 L701.75,338.06 L703.16,337.03 L704.58,336.03 L705.99,335.05 L707.40,334.11" stroke="#7a7a7a" stroke-width="2.3" fill="none" stroke-dasharray="0.1 3.57" stroke-linecap="round"/>
<path d="M424.9,303.0 V495.3" stroke="#1c1c1c" stroke-width="2.6" fill="none"/>
<path d="M423.59999999999997,490.5 H708.6999999999999" stroke="#1c1c1c" stroke-width="2.6" fill="none"/>
<path d="M420.09999999999997,490.5 H424.9" stroke="#1c1c1c" stroke-width="2.4"/>
<text x="415.4" y="496.0" text-anchor="end" class="tl">0</text>
<path d="M420.09999999999997,415.2 H424.9" stroke="#1c1c1c" stroke-width="2.4"/>
<text x="415.4" y="420.7" text-anchor="end" class="tl">1</text>
<path d="M420.09999999999997,339.9 H424.9" stroke="#1c1c1c" stroke-width="2.4"/>
<text x="415.4" y="345.4" text-anchor="end" class="tl">2</text>
<path d="M424.9,490.5 V495.3" stroke="#1c1c1c" stroke-width="2.4"/>
<path d="M441.9081947550149,490.5 V494.3" stroke="#1c1c1c" stroke-width="1.9"/>
<path d="M451.85735089166093,490.5 V494.3" stroke="#1c1c1c" stroke-width="1.9"/>
<path d="M458.91638951002983,490.5 V494.3" stroke="#1c1c1c" stroke-width="1.9"/>
<path d="M464.39180524498505,490.5 V494.3" stroke="#1c1c1c" stroke-width="1.9"/>
<path d="M468.86554564667586,490.5 V494.3" stroke="#1c1c1c" stroke-width="1.9"/>
<path d="M472.6480392608055,490.5 V494.3" stroke="#1c1c1c" stroke-width="1.9"/>
<path d="M475.9245842650448,490.5 V494.3" stroke="#1c1c1c" stroke-width="1.9"/>
<path d="M478.8147017833218,490.5 V494.3" stroke="#1c1c1c" stroke-width="1.9"/>
<path d="M481.4,490.5 V495.3" stroke="#1c1c1c" stroke-width="2.4"/>
<path d="M498.4081947550149,490.5 V494.3" stroke="#1c1c1c" stroke-width="1.9"/>
<path d="M508.35735089166093,490.5 V494.3" stroke="#1c1c1c" stroke-width="1.9"/>
<path d="M515.4163895100298,490.5 V494.3" stroke="#1c1c1c" stroke-width="1.9"/>
<path d="M520.891805244985,490.5 V494.3" stroke="#1c1c1c" stroke-width="1.9"/>
<path d="M525.3655456466759,490.5 V494.3" stroke="#1c1c1c" stroke-width="1.9"/>
<path d="M529.1480392608055,490.5 V494.3" stroke="#1c1c1c" stroke-width="1.9"/>
<path d="M532.4245842650448,490.5 V494.3" stroke="#1c1c1c" stroke-width="1.9"/>
<path d="M535.3147017833219,490.5 V494.3" stroke="#1c1c1c" stroke-width="1.9"/>
<path d="M537.9,490.5 V495.3" stroke="#1c1c1c" stroke-width="2.4"/>
<path d="M554.908194755015,490.5 V494.3" stroke="#1c1c1c" stroke-width="1.9"/>
<path d="M564.8573508916609,490.5 V494.3" stroke="#1c1c1c" stroke-width="1.9"/>
<path d="M571.9163895100298,490.5 V494.3" stroke="#1c1c1c" stroke-width="1.9"/>
<path d="M577.391805244985,490.5 V494.3" stroke="#1c1c1c" stroke-width="1.9"/>
<path d="M581.8655456466759,490.5 V494.3" stroke="#1c1c1c" stroke-width="1.9"/>
<path d="M585.6480392608055,490.5 V494.3" stroke="#1c1c1c" stroke-width="1.9"/>
<path d="M588.9245842650448,490.5 V494.3" stroke="#1c1c1c" stroke-width="1.9"/>
<path d="M591.8147017833219,490.5 V494.3" stroke="#1c1c1c" stroke-width="1.9"/>
<path d="M594.4,490.5 V495.3" stroke="#1c1c1c" stroke-width="2.4"/>
<path d="M611.408194755015,490.5 V494.3" stroke="#1c1c1c" stroke-width="1.9"/>
<path d="M621.3573508916609,490.5 V494.3" stroke="#1c1c1c" stroke-width="1.9"/>
<path d="M628.4163895100298,490.5 V494.3" stroke="#1c1c1c" stroke-width="1.9"/>
<path d="M633.891805244985,490.5 V494.3" stroke="#1c1c1c" stroke-width="1.9"/>
<path d="M638.3655456466759,490.5 V494.3" stroke="#1c1c1c" stroke-width="1.9"/>
<path d="M642.1480392608055,490.5 V494.3" stroke="#1c1c1c" stroke-width="1.9"/>
<path d="M645.4245842650448,490.5 V494.3" stroke="#1c1c1c" stroke-width="1.9"/>
<path d="M648.3147017833219,490.5 V494.3" stroke="#1c1c1c" stroke-width="1.9"/>
<path d="M650.9,490.5 V495.3" stroke="#1c1c1c" stroke-width="2.4"/>
<path d="M667.908194755015,490.5 V494.3" stroke="#1c1c1c" stroke-width="1.9"/>
<path d="M677.8573508916609,490.5 V494.3" stroke="#1c1c1c" stroke-width="1.9"/>
<path d="M684.9163895100298,490.5 V494.3" stroke="#1c1c1c" stroke-width="1.9"/>
<path d="M690.391805244985,490.5 V494.3" stroke="#1c1c1c" stroke-width="1.9"/>
<path d="M694.8655456466759,490.5 V494.3" stroke="#1c1c1c" stroke-width="1.9"/>
<path d="M698.6480392608055,490.5 V494.3" stroke="#1c1c1c" stroke-width="1.9"/>
<path d="M701.9245842650448,490.5 V494.3" stroke="#1c1c1c" stroke-width="1.9"/>
<path d="M704.8147017833219,490.5 V494.3" stroke="#1c1c1c" stroke-width="1.9"/>
<path d="M707.4,490.5 V495.3" stroke="#1c1c1c" stroke-width="2.4"/>
<text x="424.9" y="513.5" text-anchor="middle" class="tl">0.001</text>
<text x="481.4" y="513.5" text-anchor="middle" class="tl">0.01</text>
<text x="537.9" y="513.5" text-anchor="middle" class="tl">0.1</text>
<text x="594.4" y="513.5" text-anchor="middle" class="tl">1</text>
<text x="650.9" y="513.5" text-anchor="middle" class="tl">10</text>
<text x="707.4" y="513.5" text-anchor="middle" class="tl">100</text>
<text x="28.5" y="38.5" class="pl">a</text>
<text x="387.8" y="38.6" class="pl" style="font-size:21.8px">b</text>
<text x="28.7" y="307.7" class="pl">c</text>
<text x="387.2" y="307.4" class="pl" style="font-size:21.8px">d</text>
<text x="133" y="573.6" class="pl">e</text>
<text x="208.75" y="270.6" text-anchor="middle" class="xt">Concentration (µM)</text>
<text x="566.15" y="270.6" text-anchor="middle" class="xt">Concentration (µM)</text>
<text x="208.75" y="536.9" text-anchor="middle" class="xt">Concentration (µM)</text>
<text x="566.15" y="536.9" text-anchor="middle" class="xt">Concentration (µM)</text>
<text transform="translate(41.6,130.7) rotate(-90)" text-anchor="middle" class="yt">A<tspan font-size="11.5" dy="4">450</tspan></text>
<text transform="translate(398.6,130.7) rotate(-90)" text-anchor="middle" class="yt">A<tspan font-size="11.5" dy="4">450</tspan></text>
<text transform="translate(41.6,397.7) rotate(-90)" text-anchor="middle" class="yt">A<tspan font-size="11.5" dy="4">450</tspan></text>
<text transform="translate(398.6,397.7) rotate(-90)" text-anchor="middle" class="yt">A<tspan font-size="11.5" dy="4">450</tspan></text>
<text x="76.5" y="62.8" class="gl">GT1b</text>
<text x="435.5" y="63" class="gl">GD1a</text>
<text x="77.8" y="322.2" class="gl">GM1</text>
<text x="436" y="322.2" class="gl">GM3</text>
<path d="M84.0,79.2 H141.9" stroke="#9c9c9c" stroke-width="1.0"/>
<path d="M141.9,79.2 H156.4" stroke="#a8a8a8" stroke-width="1.8"/>
<path d="M156.4,79.2 H166.8" stroke="#9a9a9a" stroke-width="1.2"/>
<path d="M84.0,79.2 V98.9" stroke="#9c9c9c" stroke-width="1.0"/>
<path d="M122.6,79.2 V118.6" stroke="#9c9c9c" stroke-width="1.0"/>
<path d="M154.1,83.60000000000001 L158.70000000000002,74.8" stroke="#858585" stroke-width="1.2"/>
<path d="M157.9,83.60000000000001 L162.50000000000003,74.8" stroke="#858585" stroke-width="1.2"/>
<circle cx="84.0" cy="79.2" r="7.1" fill="#fbbf1a" stroke="#c8961a" stroke-width="0.8"/>
<rect x="96.2" y="72.10000000000001" width="14.2" height="14.2" fill="#fbbf1a" stroke="#c8961a" stroke-width="0.8"/>
<circle cx="122.6" cy="79.2" r="7.1" fill="#fbbf1a" stroke="#c8961a" stroke-width="0.8"/>
<circle cx="141.9" cy="79.2" r="7.1" fill="#507bcf" stroke="#42609f" stroke-width="0.8"/>
<path d="M84.0,91.80000000000001 L91.1,98.9 L84.0,106.0 L76.9,98.9 Z" fill="#7b3eae" stroke="#62308c" stroke-width="0.6"/>
<path d="M122.6,91.80000000000001 L129.7,98.9 L122.6,106.0 L115.5,98.9 Z" fill="#7b3eae" stroke="#62308c" stroke-width="0.6"/>
<path d="M122.6,111.5 L129.7,118.6 L122.6,125.69999999999999 L115.5,118.6 Z" fill="#7b3eae" stroke="#62308c" stroke-width="0.6"/>
<path d="M443.2,78.4 H501.4" stroke="#9c9c9c" stroke-width="1.0"/>
<path d="M501.4,78.4 H515.9" stroke="#a8a8a8" stroke-width="1.8"/>
<path d="M515.9,78.4 H526.3" stroke="#9a9a9a" stroke-width="1.2"/>
<path d="M443.2,78.4 V98.10000000000001" stroke="#9c9c9c" stroke-width="1.0"/>
<path d="M482.0,78.4 V98.10000000000001" stroke="#9c9c9c" stroke-width="1.0"/>
<path d="M513.6,82.80000000000001 L518.1999999999999,74.0" stroke="#858585" stroke-width="1.2"/>
<path d="M517.4,82.80000000000001 L521.9999999999999,74.0" stroke="#858585" stroke-width="1.2"/>
<circle cx="443.2" cy="78.4" r="7.1" fill="#fbbf1a" stroke="#c8961a" stroke-width="0.8"/>
<rect x="455.49999999999994" y="71.30000000000001" width="14.2" height="14.2" fill="#fbbf1a" stroke="#c8961a" stroke-width="0.8"/>
<circle cx="482.0" cy="78.4" r="7.1" fill="#fbbf1a" stroke="#c8961a" stroke-width="0.8"/>
<circle cx="501.4" cy="78.4" r="7.1" fill="#507bcf" stroke="#42609f" stroke-width="0.8"/>
<path d="M443.2,91.00000000000001 L450.3,98.10000000000001 L443.2,105.2 L436.09999999999997,98.10000000000001 Z" fill="#7b3eae" stroke="#62308c" stroke-width="0.6"/>
<path d="M482.0,91.00000000000001 L489.1,98.10000000000001 L482.0,105.2 L474.9,98.10000000000001 Z" fill="#7b3eae" stroke="#62308c" stroke-width="0.6"/>
<path d="M84.6,335.9 H143.1" stroke="#9c9c9c" stroke-width="1.0"/>
<path d="M143.1,335.9 H157.6" stroke="#a8a8a8" stroke-width="1.8"/>
<path d="M157.6,335.9 H168.0" stroke="#9a9a9a" stroke-width="1.2"/>
<path d="M123.6,335.9 V355.59999999999997" stroke="#9c9c9c" stroke-width="1.0"/>
<path d="M155.29999999999998,340.29999999999995 L159.9,331.5" stroke="#858585" stroke-width="1.2"/>
<path d="M159.1,340.29999999999995 L163.70000000000002,331.5" stroke="#858585" stroke-width="1.2"/>
<circle cx="84.6" cy="335.9" r="7.1" fill="#fbbf1a" stroke="#c8961a" stroke-width="0.8"/>
<rect x="97.0" y="328.79999999999995" width="14.2" height="14.2" fill="#fbbf1a" stroke="#c8961a" stroke-width="0.8"/>
<circle cx="123.6" cy="335.9" r="7.1" fill="#fbbf1a" stroke="#c8961a" stroke-width="0.8"/>
<circle cx="143.1" cy="335.9" r="7.1" fill="#507bcf" stroke="#42609f" stroke-width="0.8"/>
<path d="M123.6,348.49999999999994 L130.7,355.59999999999997 L123.6,362.7 L116.5,355.59999999999997 Z" fill="#7b3eae" stroke="#62308c" stroke-width="0.6"/>
<path d="M444.3,335.6 H463.7" stroke="#9c9c9c" stroke-width="1.0"/>
<path d="M463.7,335.6 H478.2" stroke="#a8a8a8" stroke-width="1.8"/>
<path d="M478.2,335.6 H488.59999999999997" stroke="#9a9a9a" stroke-width="1.2"/>
<path d="M444.3,335.6 V355.3" stroke="#9c9c9c" stroke-width="1.0"/>
<path d="M475.9,340.0 L480.5,331.20000000000005" stroke="#858585" stroke-width="1.2"/>
<path d="M479.7,340.0 L484.3,331.20000000000005" stroke="#858585" stroke-width="1.2"/>
<circle cx="444.3" cy="335.6" r="7.1" fill="#fbbf1a" stroke="#c8961a" stroke-width="0.8"/>
<circle cx="463.7" cy="335.6" r="7.1" fill="#507bcf" stroke="#42609f" stroke-width="0.8"/>
<path d="M444.3,348.2 L451.40000000000003,355.3 L444.3,362.40000000000003 L437.2,355.3 Z" fill="#7b3eae" stroke="#62308c" stroke-width="0.6"/>
<text x="169.2" y="145.2" class="hc" fill="#2cf6f6" stroke="#2cf6f6">H<tspan font-size="11" dy="2.3">C</tspan><tspan dy="-2.3">/E</tspan></text>
<text x="240.1" y="176.9" class="hc" fill="#8a8a8a" stroke="#8a8a8a">H<tspan font-size="11.3" dy="3.6">C</tspan><tspan dy="-3.6" dx="0.8">/A</tspan></text>
<path d="M163.5,564 H637.5" stroke="#2a2a2a" stroke-width="2"/>
<path d="M163.5,595.3 H637.5" stroke="#444" stroke-width="1.1"/>
<path d="M163.5,658 H637.5" stroke="#2a2a2a" stroke-width="2"/>
<text x="303.7" y="584.5" text-anchor="middle" class="th">GT1b</text>
<text x="399" y="584.5" text-anchor="middle" class="th">GD1a</text>
<text x="495" y="584.5" text-anchor="middle" class="th">GM1</text>
<text x="591" y="584.5" text-anchor="middle" class="th">GM3</text>
<text x="208" y="616.6" text-anchor="middle" class="th">Hc/A</text>
<text x="208" y="648" text-anchor="middle" class="th">Hc/E</text>
<text x="303.7" y="616.6" text-anchor="middle" class="td">1.25 ±0.06 µM</text>
<text x="399" y="616.6" text-anchor="middle" class="td">1.08 ±0.04 µM</text>
<text x="495" y="616.6" text-anchor="middle" class="td">2.6 ±0.1 µM*</text>
<text x="591" y="616.6" text-anchor="middle" class="td">9.2 ±0.5 µM*</text>
<text x="303.7" y="648" text-anchor="middle" class="td">0.55 ±0.06 µM</text>
<text x="399" y="648" text-anchor="middle" class="td">0.95 ±0.06 µM</text>
<text x="495" y="648" text-anchor="middle" class="td">ND*</text>
<text x="591" y="648" text-anchor="middle" class="td">ND*</text>
</svg></body></html>
